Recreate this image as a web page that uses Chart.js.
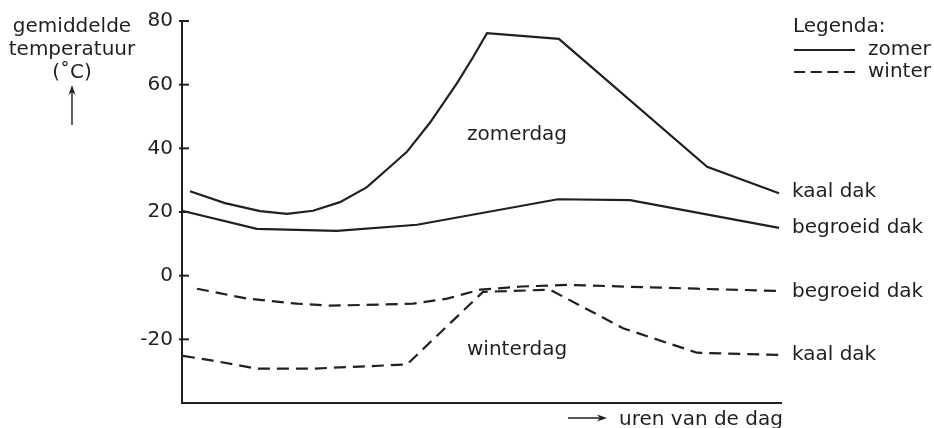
<!DOCTYPE html>
<html>
<head>
<meta charset="utf-8">
<title>gemiddelde temperatuur</title>
<script src="https://cdn.jsdelivr.net/npm/chart.js@4.4.1/dist/chart.umd.min.js"></script>
<style>
  body { margin: 0; background: #fff; }
  #wrap { width: 934px; height: 428px; }
</style>
</head>
<body>
<div id="wrap"><canvas id="grafiek" width="934" height="428"></canvas></div>
<script>
  "use strict";

  // data (uren van de dag, gemiddelde temperatuur in graden C)
  var zomerKaalUur = [0.32, 1.72, 3.13, 4.21, 5.25, 6.33, 7.41, 8.45, 9.01, 9.94, 11.02, 11.66, 12.22, 15.1, 21.04, 23.92];
  var zomerKaalTemp = [26.5, 22.8, 20.3, 19.4, 20.4, 23.1, 27.8, 35.0, 38.9, 48.1, 60.5, 68.6, 76.2, 74.4, 34.2, 25.9];

  var zomerBegroeidUur = [0.04, 3.0, 6.21, 9.42, 15.06, 17.95, 23.92];
  var zomerBegroeidTemp = [20.3, 14.7, 14.1, 16.0, 24.0, 23.7, 15.0];

  var winterBegroeidUur = [0.6, 2.6, 4.61, 5.93, 7.93, 9.26, 10.62, 11.94, 13.6, 15.43, 20.63, 23.92];
  var winterBegroeidTemp = [-4.1, -7.2, -8.8, -9.4, -9.1, -8.8, -7.2, -4.4, -3.4, -2.9, -4.1, -4.8];

  var winterKaalUur = [0.04, 1.24, 3.0, 5.25, 9.01, 12.06, 14.74, 17.67, 20.63, 23.92];
  var winterKaalTemp = [-25.2, -26.7, -29.2, -29.2, -27.9, -5.1, -4.4, -16.5, -24.2, -24.9];

  var yTicks = [80, 60, 40, 20, 0, -20];

  var inkt = "#231f20";
  var font = "DejaVu Sans";
  var fontSize = 20;
  var streep = [12, 7];

  var punten = function (uren, temps) {
    return uren.map(function (u, i) { return { x: u, y: temps[i] }; });
  };

  var lijn = function (label, uren, temps, dash) {
    return {
      label: label,
      data: punten(uren, temps),
      borderColor: inkt,
      borderWidth: 2.2,
      borderDash: dash,
      pointRadius: 0,
      tension: 0,
      fill: false
    };
  };

  // tick marks across the y axis
  var tickStreepjes = {
    id: "tickStreepjes",
    afterDraw: function (chart) {
      var ctx = chart.ctx;
      var y = chart.scales.y;
      var left = chart.chartArea.left;
      ctx.save();
      ctx.strokeStyle = inkt;
      ctx.lineWidth = 2;
      yTicks.forEach(function (v) {
        var py = y.getPixelForValue(v);
        ctx.beginPath();
        ctx.moveTo(left - 3, py);
        ctx.lineTo(left + 7, py);
        ctx.stroke();
      });
      ctx.restore();
    }
  };

  var pijl = function (ctx, x1, y1, x2, y2) {
    var hoek = Math.atan2(y2 - y1, x2 - x1);
    var c = Math.cos(hoek), s = Math.sin(hoek);
    ctx.beginPath();
    ctx.moveTo(x1, y1);
    ctx.lineTo(x2 - 6 * c, y2 - 6 * s);
    ctx.stroke();
    ctx.beginPath();
    ctx.moveTo(x2, y2);
    ctx.lineTo(x2 - 10 * c + 3.5 * s, y2 - 10 * s - 3.5 * c);
    ctx.lineTo(x2 - 7 * c, y2 - 7 * s);
    ctx.lineTo(x2 - 10 * c - 3.5 * s, y2 - 10 * s + 3.5 * c);
    ctx.closePath();
    ctx.fill();
  };

  // labels, legend and axis titles
  var teksten = {
    id: "teksten",
    afterDraw: function (chart) {
      var ctx = chart.ctx;
      ctx.save();
      ctx.fillStyle = inkt;
      ctx.strokeStyle = inkt;
      ctx.font = fontSize + "px '" + font + "'";
      ctx.textBaseline = "alphabetic";

      // y axis title
      ctx.textAlign = "center";
      ctx.fillText("gemiddelde", 72, 32);
      ctx.fillText("temperatuur", 72, 55);
      ctx.fillText("(\u02DAC)", 72, 78);
      ctx.lineWidth = 1.4;
      pijl(ctx, 72, 125, 72, 85);

      // x axis title
      ctx.textAlign = "left";
      pijl(ctx, 568, 418, 607, 418);
      ctx.fillText("uren van de dag", 619, 425);

      ctx.fillText("zomerdag", 467, 140);
      ctx.fillText("winterdag", 467, 355);

      ctx.fillText("kaal dak", 792, 197);
      ctx.fillText("begroeid dak", 792, 233);
      ctx.fillText("begroeid dak", 792, 297);
      ctx.fillText("kaal dak", 792, 360);

      // legenda
      ctx.fillText("Legenda:", 793, 32);
      ctx.fillText("zomer", 868, 55);
      ctx.fillText("winter", 868, 77);
      ctx.lineWidth = 2.2;
      ctx.beginPath();
      ctx.moveTo(794, 50);
      ctx.lineTo(855, 50);
      ctx.stroke();
      ctx.setLineDash([11, 5.7]);
      ctx.beginPath();
      ctx.moveTo(794, 72);
      ctx.lineTo(855, 72);
      ctx.stroke();
      ctx.restore();
    }
  };

  var ctx1 = document.getElementById("grafiek").getContext("2d");
  var grafiek = new Chart(ctx1, {
    type: "line",
    data: {
      datasets: [
        lijn("zomer kaal dak", zomerKaalUur, zomerKaalTemp, []),
        lijn("zomer begroeid dak", zomerBegroeidUur, zomerBegroeidTemp, []),
        lijn("winter begroeid dak", winterBegroeidUur, winterBegroeidTemp, streep),
        lijn("winter kaal dak", winterKaalUur, winterKaalTemp, streep)
      ]
    },
    options: {
      responsive: false,
      animation: false,
      layout: { padding: { top: 15, right: 153, bottom: 0, left: 0 } },
      plugins: {
        legend: { display: false },
        tooltip: { enabled: false }
      },
      scales: {
        x: {
          type: "linear",
          min: 0,
          max: 24,
          grid: { display: false, drawTicks: false },
          ticks: { display: false },
          border: { display: true, color: inkt, width: 2 },
          afterFit: function (scale) { scale.height = 25; }
        },
        y: {
          min: -40,
          max: 80,
          grid: { display: false, drawTicks: false },
          border: { display: true, color: inkt, width: 2 },
          ticks: {
            stepSize: 20,
            padding: 9,
            color: inkt,
            font: { family: font, size: fontSize },
            callback: function (v) { return v === -40 ? "" : v; }
          },
          afterFit: function (scale) { scale.width = 182; }
        }
      }
    },
    plugins: [tickStreepjes, teksten]
  });
</script>
</body>
</html>
